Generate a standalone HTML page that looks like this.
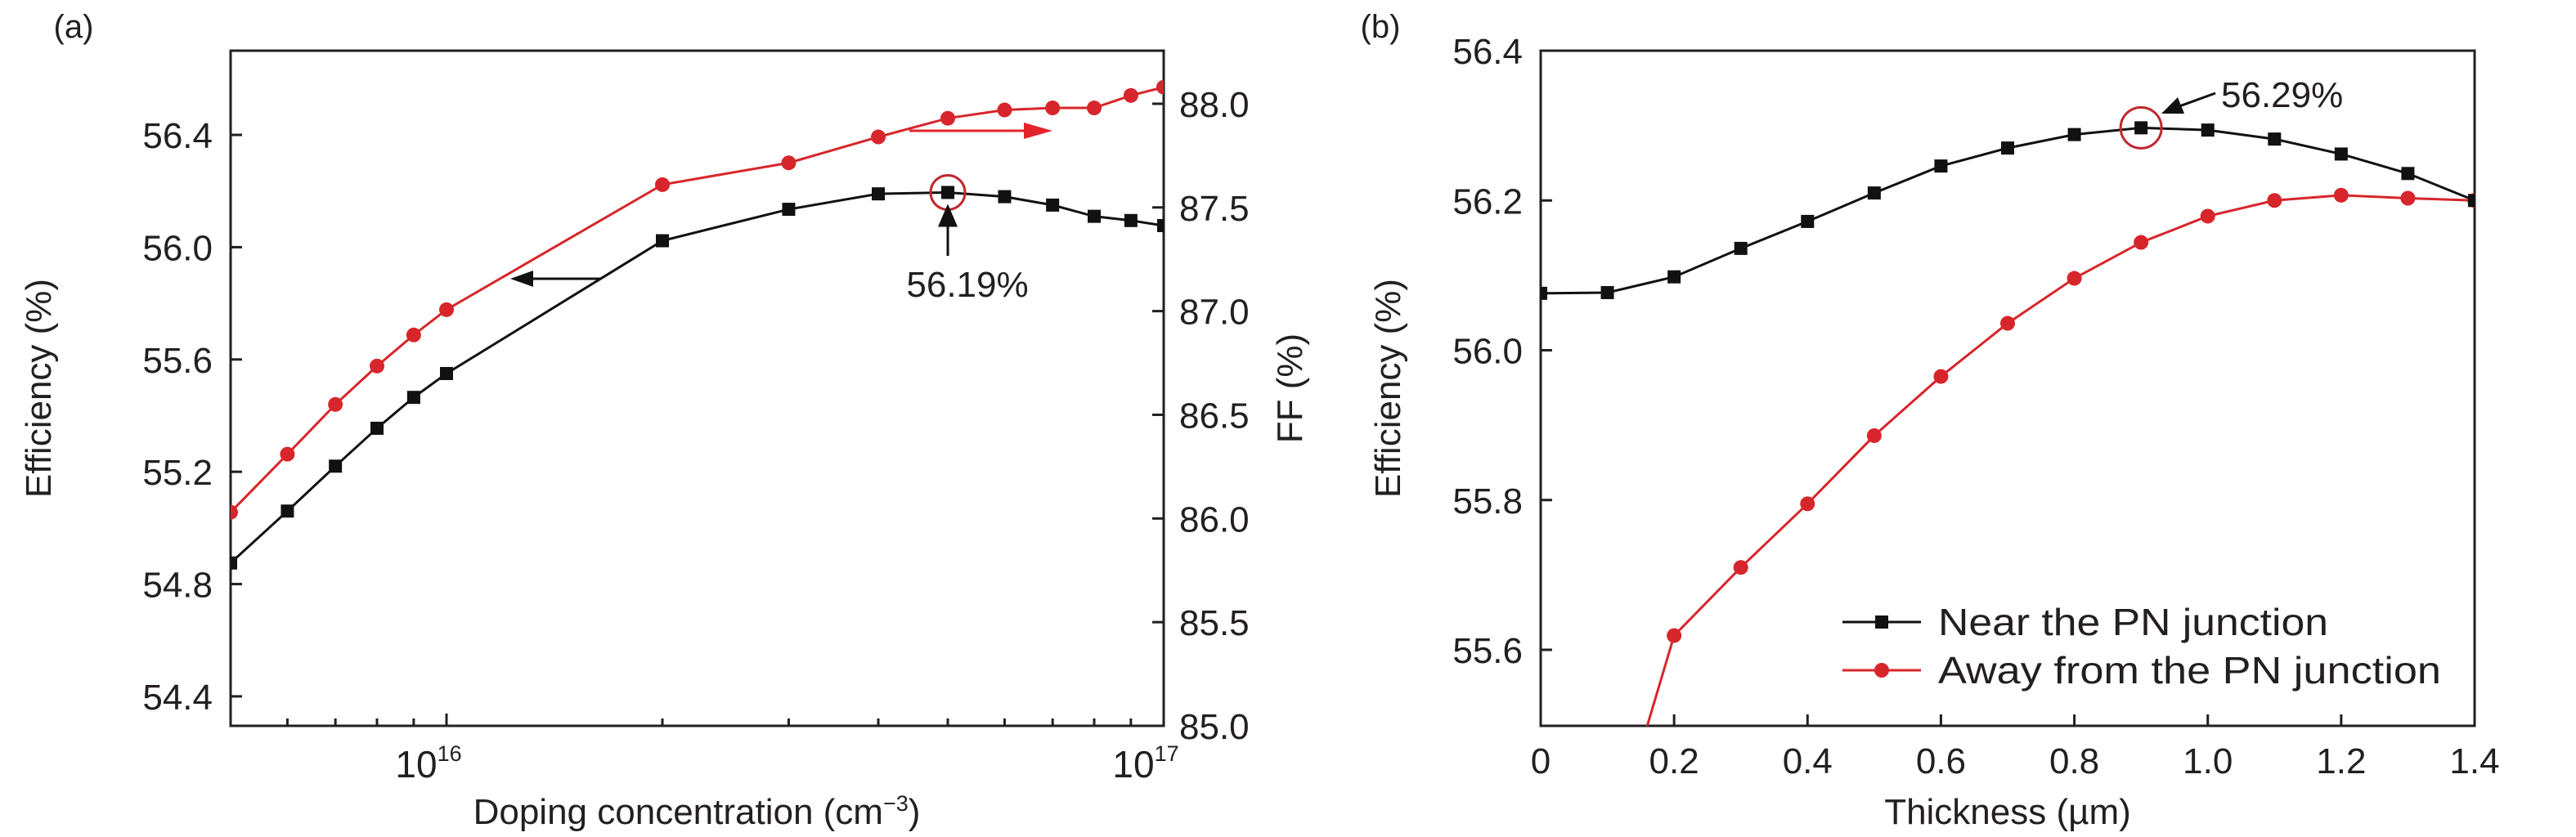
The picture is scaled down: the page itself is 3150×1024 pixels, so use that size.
<!DOCTYPE html>
<html><head><meta charset="utf-8"><style>
html,body{margin:0;padding:0;background:#fff;width:3150px;height:1024px;overflow:hidden}
svg{display:block}
text{font-family:"Liberation Sans",sans-serif;fill:#231f20}
</style></head><body>
<svg id="chart" width="3150" height="1024" viewBox="0 0 3150 1024" xmlns="http://www.w3.org/2000/svg">
<g id="pa"></g>
<g id="pb"></g>
</svg>
<script>
// Panel (a) data
const dopingX = [5e15,6e15,7e15,8e15,9e15,1e16,2e16,3e16,4e16,5e16,6e16,7e16,8e16,9e16,1e17];
const effA = [54.875,55.06,55.22,55.355,55.465,55.55,56.023,56.135,56.19,56.195,56.18,56.15,56.11,56.095,56.077];
const ffA = [86.03,86.31,86.55,86.735,86.885,87.007,87.61,87.715,87.84,87.93,87.97,87.98,87.98,88.04,88.08];
const effTicksA = [54.4,54.8,55.2,55.6,56.0,56.4];
const ffTicks = [85.0,85.5,86.0,86.5,87.0,87.5,88.0];
// Panel (b) data
const thickX = [0,0.1,0.2,0.3,0.4,0.5,0.6,0.7,0.8,0.9,1.0,1.1,1.2,1.3,1.4];
const nearB = [56.076,56.077,56.098,56.136,56.172,56.21,56.246,56.27,56.288,56.297,56.294,56.282,56.262,56.236,56.2];
const awayB = [55.0,55.32,55.619,55.71,55.795,55.886,55.965,56.036,56.096,56.144,56.179,56.2,56.207,56.203,56.2];
const effTicksB = [55.6,55.8,56.0,56.2,56.4];
const thickTicks = [0,0.2,0.4,0.6,0.8,1.0,1.2,1.4];

const NS="http://www.w3.org/2000/svg";
function mk(parent,tag,attrs,txt){const e=document.createElementNS(NS,tag);for(const k in attrs)e.setAttribute(k,attrs[k]);if(txt!==undefined)e.textContent=txt;parent.appendChild(e);return e;}

// ---------- Panel A ----------
const pa=document.getElementById('pa');
const AL=282,AR=1423,AT=62,AB=888;
const xA=v=>AL+(Math.log10(v)-Math.log10(5e15))/(17-Math.log10(5e15))*(AR-AL);
const yA=v=>AB-(v-54.295)/(56.70-54.295)*(AB-AT);
const yF=v=>AB-(v-85.0)/(88.256-85.0)*(AB-AT);
mk(pa,'defs',{}).innerHTML='<clipPath id="clipA"><rect x="282" y="62" width="1141" height="826"/></clipPath><clipPath id="clipB"><rect x="1884" y="62" width="1142" height="826"/></clipPath>';
let t;
t=mk(pa,'text',{x:90,y:46,'font-size':40,'text-anchor':'middle'},'(a)');

effTicksA.forEach(v=>{const y=yA(v);
 let l=mk(pa,'line',{x1:AL,x2:AL+14,y1:y,y2:y,stroke:'#231f20','stroke-width':3});
 
 let tx=mk(pa,'text',{x:260,y:y+16,'font-size':44,'text-anchor':'end'},v.toFixed(1));
 });
ffTicks.forEach(v=>{const y=yF(v);
 let l=mk(pa,'line',{x1:AR-14,x2:AR,y1:y,y2:y,stroke:'#231f20','stroke-width':3});
 
 let tx=mk(pa,'text',{x:1442,y:y+16,'font-size':44},v.toFixed(1));
 });
[6e15,7e15,8e15,9e15,2e16,3e16,4e16,5e16,6e16,7e16,8e16,9e16].forEach(v=>{const x=xA(v);
 let l=mk(pa,'line',{x1:x,x2:x,y1:AB,y2:AB-9,stroke:'#231f20','stroke-width':3});
 });
[1e16,1e17].forEach((v,i)=>{const x=xA(v);
 let l=mk(pa,'line',{x1:x,x2:x,y1:AB,y2:AB-15,stroke:'#231f20','stroke-width':3});
 
 let tx=mk(pa,'text',{x:x-22,y:951,'font-size':46,'text-anchor':'middle'});
 
 tx.innerHTML='10<tspan dy="-20" font-size="27">'+(16+i)+'</tspan>';});
let fr=mk(pa,'rect',{x:AL,y:AT,width:AR-AL,height:AB-AT,fill:'none',stroke:'#231f20','stroke-width':3});

t=mk(pa,'text',{x:852,y:1008,'font-size':44,'text-anchor':'middle'});
t.innerHTML='Doping concentration (cm<tspan dy="-16" font-size="27">−3</tspan><tspan dy="16">)</tspan>';

t=mk(pa,'text',{x:0,y:0,'font-size':44,'text-anchor':'middle',transform:'translate(62,475) rotate(-90)'},'Efficiency (%)');

t=mk(pa,'text',{x:0,y:0,'font-size':44,'text-anchor':'middle',transform:'translate(1592,475) rotate(-90)'},'FF (%)');

const gA=mk(pa,'g',{'clip-path':'url(#clipA)'});
let p=mk(gA,'polyline',{points:dopingX.map((x,i)=>xA(x)+','+yF(ffA[i])).join(' '),fill:'none',stroke:'#d7262b','stroke-width':3});

p=mk(gA,'polyline',{points:dopingX.map((x,i)=>xA(x)+','+yA(effA[i])).join(' '),fill:'none',stroke:'#111','stroke-width':3});

dopingX.forEach((x,i)=>{
 let c=mk(gA,'circle',{cx:xA(x),cy:yF(ffA[i]),r:9,fill:'#d7262b'});
 
 let s=mk(gA,'rect',{x:xA(x)-8,y:yA(effA[i])-8,width:16,height:16,fill:'#111'});
 });
const pkx=xA(5e16),pky=yA(56.195);
let an=mk(pa,'circle',{cx:pkx,cy:pky,r:21,fill:'none',stroke:'#c0272d','stroke-width':3});

an=mk(pa,'line',{x1:pkx,x2:pkx,y1:313,y2:pky+40,stroke:'#111','stroke-width':3});

an=mk(pa,'polygon',{points:`${pkx},${pky+14} ${pkx-12},${pky+42} ${pkx+12},${pky+42}`,fill:'#111'});

t=mk(pa,'text',{x:1183,y:363,'font-size':44,'text-anchor':'middle'},'56.19%');

an=mk(pa,'line',{x1:735,x2:645,y1:341,y2:341,stroke:'#111','stroke-width':3});

an=mk(pa,'polygon',{points:'624,341 652,331 652,351',fill:'#111'});

an=mk(pa,'line',{x1:1112,x2:1265,y1:160,y2:160,stroke:'#e3242b','stroke-width':3});

an=mk(pa,'polygon',{points:'1287,160 1252,150 1252,170',fill:'#e3242b'});


// ---------- Panel B ----------
const pb=document.getElementById('pb');
const BL=1884,BR=3026,BT=62,BB=888;
const xB=v=>BL+v/1.4*(BR-BL);
const yB=v=>BB-(v-55.4985)/(56.4-55.4985)*(BB-BT);
t=mk(pb,'text',{x:1688,y:46,'font-size':40,'text-anchor':'middle'},'(b)');

effTicksB.forEach(v=>{const y=yB(v);
 let l=mk(pb,'line',{x1:BL,x2:BL+14,y1:y,y2:y,stroke:'#231f20','stroke-width':3});
 
 let tx=mk(pb,'text',{x:1862,y:y+16,'font-size':44,'text-anchor':'end'},v.toFixed(1));
 });
thickTicks.forEach(v=>{const x=xB(v);
 let l=mk(pb,'line',{x1:x,x2:x,y1:BB,y2:BB-14,stroke:'#231f20','stroke-width':3});
 
 let tx=mk(pb,'text',{x:x,y:946,'font-size':44,'text-anchor':'middle'},v===0?'0':v.toFixed(1));
 });
fr=mk(pb,'rect',{x:BL,y:BT,width:BR-BL,height:BB-BT,fill:'none',stroke:'#231f20','stroke-width':3});

t=mk(pb,'text',{x:2455,y:1008,'font-size':44,'text-anchor':'middle'},'Thickness (µm)');

t=mk(pb,'text',{x:0,y:0,'font-size':44,'text-anchor':'middle',transform:'translate(1712,475) rotate(-90)'},'Efficiency (%)');

const gB=mk(pb,'g',{'clip-path':'url(#clipB)'});
p=mk(gB,'polyline',{points:thickX.map((x,i)=>xB(x)+','+yB(awayB[i])).join(' '),fill:'none',stroke:'#d7262b','stroke-width':3});

p=mk(gB,'polyline',{points:thickX.map((x,i)=>xB(x)+','+yB(nearB[i])).join(' '),fill:'none',stroke:'#111','stroke-width':3});

thickX.forEach((x,i)=>{
 let c=mk(gB,'circle',{cx:xB(x),cy:yB(awayB[i]),r:9,fill:'#d7262b'});
 
 let s=mk(gB,'rect',{x:xB(x)-8,y:yB(nearB[i])-8,width:16,height:16,fill:'#111'});
 });
const bx=xB(0.9),by=yB(56.297);
an=mk(pb,'ellipse',{cx:bx,cy:by,rx:25,ry:25,fill:'none',stroke:'#c0272d','stroke-width':3});

an=mk(pb,'line',{x1:2709,x2:2665,y1:114,y2:130,stroke:'#111','stroke-width':3});

an=mk(pb,'polygon',{points:'2643,139 2663,119 2671,139',fill:'#111'});

t=mk(pb,'text',{x:2716,y:131,'font-size':44},'56.29%');

const lg=mk(pb,'g',{});

let e=mk(lg,'line',{x1:2253,x2:2349,y1:761,y2:761,stroke:'#111','stroke-width':3});

e=mk(lg,'rect',{x:2293,y:753,width:16,height:16,fill:'#111'});

e=mk(lg,'text',{x:2370,y:777,'font-size':46,textLength:477,lengthAdjust:'spacingAndGlyphs'},'Near the PN junction');

e=mk(lg,'line',{x1:2253,x2:2349,y1:820,y2:820,stroke:'#d7262b','stroke-width':3});

e=mk(lg,'circle',{cx:2301,cy:820,r:9,fill:'#d7262b'});

e=mk(lg,'text',{x:2370,y:836,'font-size':46,textLength:615,lengthAdjust:'spacingAndGlyphs'},'Away from the PN junction');

</script>
</body></html>
